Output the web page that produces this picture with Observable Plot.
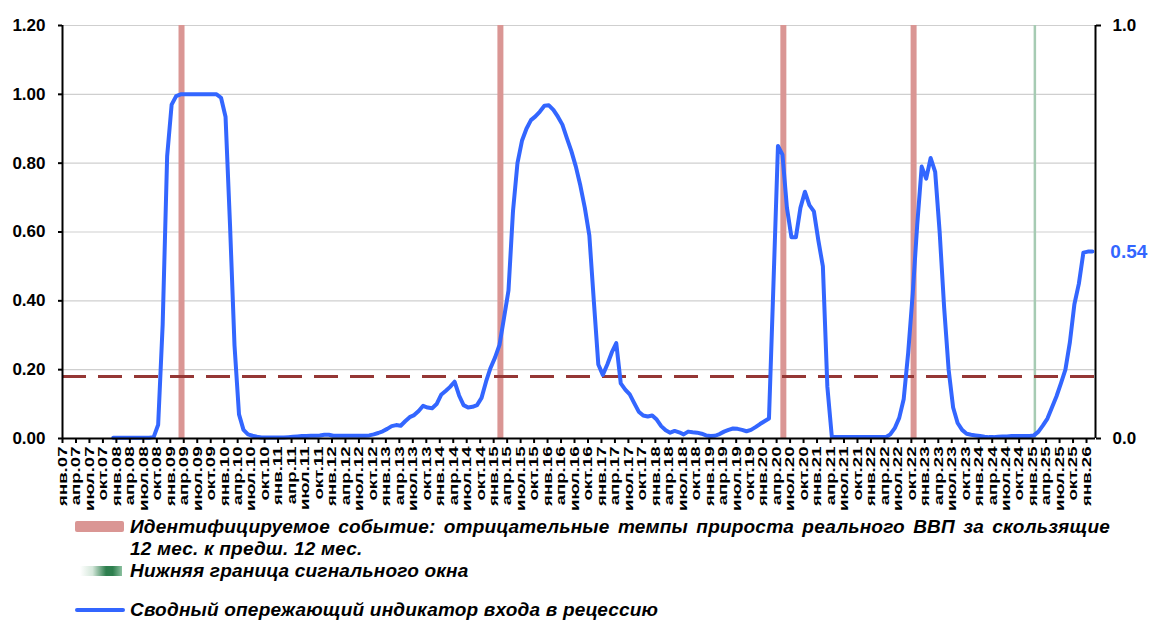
<!DOCTYPE html>
<html><head><meta charset="utf-8">
<script src="https://cdn.jsdelivr.net/npm/d3@7"></script>
<script src="https://cdn.jsdelivr.net/npm/@observablehq/plot@0.6"></script>
<style>
body{margin:0;background:#fff;}
#wrap{position:relative;width:1153px;height:622px;font-family:"Liberation Sans",Arial,sans-serif;overflow:hidden;}
#chart{position:absolute;left:0;top:0;}
.lg{position:absolute;font-weight:bold;font-style:italic;font-size:19px;letter-spacing:0.2px;color:#000;white-space:nowrap;line-height:22px;}
.sw{position:absolute;}
</style></head><body><div id="wrap"><div id="chart"></div></div>
<script>
// ---- data ----
const firstYear = 2007;
const quarterNames = ["янв.", "апр.", "июл.", "окт."];
const seriesStart = "2007-12";
const indicator = [
  0.002,0.002,0.002,0.002,0.002,0.002,0.002,0.002,0.002,              // дек.07 - авг.08
  0.004,0.04,0.33,0.82,0.97,0.995,1.0,1.0,1.0,1.0,1.0,1.0,1.0,1.0,1.0, // сен.08 - окт.09
  0.99,0.935,0.62,0.27,0.07,0.025,0.012,0.008,0.005,                  // ноя.09 - июл.10
  0.003,0.003,0.003,0.003,0.003,0.003,0.004,0.005,0.006,0.007,0.007,0.008, // авг.10 - июл.11
  0.008,0.009,0.011,0.011,0.008,0.008,0.008,0.008,0.008,0.008,0.008,0.008, // авг.11 - июл.12
  0.009,0.012,0.016,0.021,0.028,0.036,0.039,0.037,0.05,0.062,0.068,0.08,   // авг.12 - июл.13
  0.095,0.09,0.088,0.1,0.127,0.138,0.15,0.165,0.125,0.097,0.09,0.092,      // авг.13 - июл.14
  0.097,0.118,0.165,0.205,0.235,0.272,0.35,0.43,0.66,0.80,0.865,0.9,       // авг.14 - июл.15
  0.925,0.936,0.95,0.967,0.968,0.955,0.935,0.912,0.873,0.835,0.79,0.735,   // авг.15 - июл.16
  0.67,0.59,0.40,0.215,0.185,0.215,0.25,0.277,0.16,0.142,0.128,0.103,      // авг.16 - июл.17
  0.078,0.067,0.064,0.067,0.055,0.036,0.024,0.017,0.022,0.018,0.012,0.02,  // авг.17 - июл.18
  0.018,0.017,0.014,0.009,0.007,0.008,0.013,0.02,0.025,0.029,0.028,0.025,  // авг.18 - июл.19
  0.021,0.025,0.033,0.042,0.05,0.058,0.45,0.85,0.825,0.67,0.585,0.585,     // авг.19 - июл.20
  0.67,0.717,0.678,0.66,0.575,0.50,0.15,0.004,0.004,0.004,0.004,0.004,     // авг.20 - июл.21
  0.004,0.004,0.004,0.004,0.004,0.004,0.004,0.004,0.012,0.03,0.06,0.115,   // авг.21 - июл.22
  0.25,0.42,0.62,0.79,0.755,0.815,0.775,0.6,0.38,0.2,0.09,0.045,           // авг.22 - июл.23
  0.025,0.014,0.011,0.009,0.007,0.005,0.004,0.004,0.005,0.006,0.006,0.007, // авг.23 - июл.24
  0.007,0.007,0.007,0.007,0.009,0.02,0.038,0.058,0.09,0.122,0.16,0.2,      // авг.24 - июл.25
  0.28,0.39,0.45,0.54,0.543,0.543                                          // авг.25 - янв.26
];
const recessionEvents = ["2009-03", "2015-02", "2020-05", "2022-10"];
const signalWindowStart = ["2025-01"];
const threshold = [0.18];
const leftTicks = [0, 0.2, 0.4, 0.6, 0.8, 1.0, 1.2];
const rightTickLabels = ["0.0", "1.0"];
const lastValueLabel = "0.54";
const legendTexts = [
  "Идентифицируемое событие: отрицательные темпы прироста реального ВВП за скользящие",
  "12 мес. к предш. 12 мес.",
  "Нижняя граница сигнального окна",
  "Сводный опережающий индикатор входа в рецессию"
];

// ---- helpers ----
const monthIndex = s => { const [y, m] = s.split("-").map(Number); return (y - firstYear) * 12 + (m - 1); };
const start = monthIndex(seriesStart);
const lastMonth = start + indicator.length - 1; // янв.26
const nMonths = lastMonth + 1;
const series = indicator.map((v, k) => ({i: start + k, v}));
const tickIdx = d3.range(0, nMonths, 3);
const tickLabel = i => quarterNames[(i / 3) % 4] + String(firstYear + Math.floor(i / 12)).slice(2);
const eventIdx = recessionEvents.map(monthIndex);
const signalIdx = signalWindowStart.map(monthIndex);
const lastPoint = series[series.length - 1];
const yTop = leftTicks[leftTicks.length - 1];

const chart = Plot.plot({
  width: 1153, height: 515,
  marginLeft: 62, marginRight: 58, marginTop: 25, marginBottom: 77,
  x: {domain: [0, nMonths], axis: null},
  y: {domain: [0, yTop], axis: null},
  style: {fontFamily: '"Liberation Sans", Arial, sans-serif', fontWeight: "bold", background: "#fff", color: "#000", overflow: "visible"},
  marks: [
    Plot.ruleY(leftTicks.slice(1), {stroke: "#cfcfcf", strokeWidth: 1.2}),
    Plot.ruleX(eventIdx, {x: d => d + 0.5, y1: 0, y2: yTop, stroke: "#DA9694", strokeWidth: 6}),
    Plot.ruleX(signalIdx, {x: d => d + 0.5, y1: 0, y2: yTop, stroke: "#a6cbb3", strokeWidth: 2.5}),
    Plot.ruleY(threshold, {stroke: "#953735", strokeWidth: 3, strokeDasharray: "24,12"}),
    Plot.line(series, {x: d => d.i + 0.3, y: "v", stroke: "#3366FF", strokeWidth: 4, strokeLinejoin: "round", strokeLinecap: "round"}),
    Plot.ruleY([0], {stroke: "#000", strokeWidth: 2}),
    Plot.ruleX([0, nMonths], {stroke: "#000", strokeWidth: 2}),
    Plot.axisY(leftTicks, {anchor: "left", label: null, tickFormat: d => d.toFixed(2), tickSize: 4, tickPadding: 13, fontSize: 17, fontWeight: "bold", strokeWidth: 2}),
    Plot.axisY([0, yTop], {anchor: "right", label: null, tickFormat: (d, k) => rightTickLabels[k], tickSize: 5, tickPadding: 12, fontSize: 17, fontWeight: "bold", strokeWidth: 2}),
    Plot.axisX(tickIdx, {anchor: "bottom", label: null, tickFormat: tickLabel, tickRotate: -90, tickSize: 5, tickPadding: 3, fontSize: 13.5, fontWeight: "bold", strokeWidth: 2}),
    Plot.text([lastPoint], {x: d => d.i + 0.3, y: "v", text: () => lastValueLabel, dx: 18, textAnchor: "start", fill: "#3366FF", fontSize: 19, fontWeight: "bold"})
  ]
});
// stretch the rotated month labels along their length, as in the original
chart.querySelectorAll('g[aria-label="x-axis tick label"] text').forEach(t => {
  const tr = t.getAttribute("transform") || "";
  t.setAttribute("transform", tr + " scale(1.38,1)");
});
document.getElementById("chart").appendChild(chart);

// ---- legend (below the SVG) ----
const wrap = document.getElementById("wrap");
function add(html) { wrap.insertAdjacentHTML("beforeend", html); }
add(`<div class="sw" style="left:75px;top:521px;width:49px;height:11px;background:#DA9694;border-radius:2px"></div>`);
add(`<div class="lg" style="left:130px;top:516px;width:980px;text-align:justify;text-align-last:justify;white-space:normal;">${legendTexts[0]}</div>`);
add(`<div class="lg" style="left:130px;top:538px;">${legendTexts[1]}</div>`);
add(`<div class="sw" style="left:80px;top:566px;width:42px;height:10px;background:linear-gradient(to right,#ffffff 0%,#d4e7da 30%,#2e7f4e 62%,#2e7f4e 78%,#8cc1a0 100%)"></div>`);
add(`<div class="lg" style="left:130px;top:560px;">${legendTexts[2]}</div>`);
add(`<div class="sw" style="left:75px;top:608px;width:50px;height:4px;background:#3366FF;border-radius:2px"></div>`);
add(`<div class="lg" style="left:130px;top:599px;">${legendTexts[3]}</div>`);
</script>
</body></html>
